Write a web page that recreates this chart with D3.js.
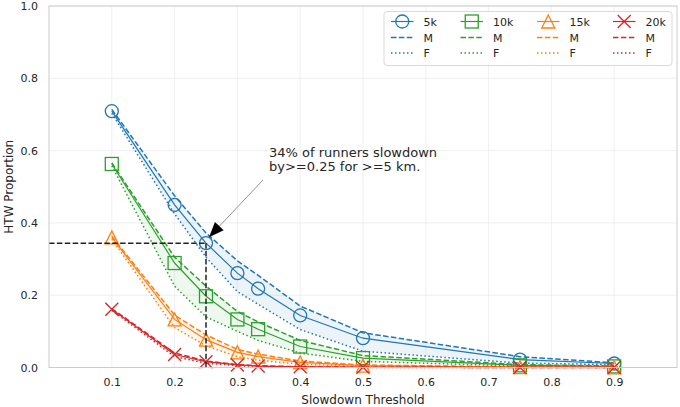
<!DOCTYPE html>
<html><head><meta charset="utf-8">
<script src="https://cdn.jsdelivr.net/npm/d3@7"></script>
<style>body{margin:0;background:#fff} svg{display:block} text{font-family:"DejaVu Sans",sans-serif;fill:#262626}</style>
</head><body>
<svg id="c" width="680" height="407"></svg>
<script>
const thresholds = [0.1, 0.2, 0.25, 0.3, 0.333, 0.4, 0.5, 0.75, 0.9];
const groups = ["5k", "10k", "15k", "20k"];
const colors = ["#1f77b4", "#2ca02c", "#ff7f0e", "#d62728"];
const markerTypes = ["circle", "square", "triangle", "x"];

const all5k  = [0.709, 0.450, 0.344, 0.261, 0.218, 0.144, 0.081, 0.022, 0.011];
const male5k = [0.714, 0.475, 0.372, 0.295, 0.255, 0.170, 0.096, 0.030, 0.013];
const fem5k  = [0.703, 0.425, 0.305, 0.210, 0.175, 0.105, 0.045, 0.012, 0.008];

const all10k  = [0.563, 0.289, 0.197, 0.133, 0.106, 0.058, 0.026, 0.006, 0.003];
const male10k = [0.566, 0.305, 0.225, 0.155, 0.126, 0.075, 0.033, 0.008, 0.004];
const fem10k  = [0.558, 0.225, 0.140, 0.100, 0.075, 0.040, 0.017, 0.004, 0.002];

const all15k  = [0.360, 0.133, 0.077, 0.042, 0.030, 0.014, 0.005, 0.001, 0.0005];
const male15k = [0.363, 0.145, 0.090, 0.050, 0.037, 0.018, 0.007, 0.0015, 0.001];
const fem15k  = [0.355, 0.110, 0.060, 0.030, 0.020, 0.009, 0.003, 0.0005, 0.0003];

const all20k  = [0.161, 0.036, 0.016, 0.007, 0.004, 0.002, 0.0005, 0.0002, 0.0001];
const male20k = [0.163, 0.040, 0.018, 0.008, 0.005, 0.002, 0.0006, 0.0002, 0.0001];
const fem20k  = [0.158, 0.030, 0.012, 0.005, 0.003, 0.001, 0.0003, 0.0001, 0.0001];

const allVals = [all5k, all10k, all15k, all20k];
const maleVals = [male5k, male10k, male15k, male20k];
const femVals = [fem5k, fem10k, fem15k, fem20k];

const xTicks = [0.1, 0.2, 0.3, 0.4, 0.5, 0.6, 0.7, 0.8, 0.9];
const yTicks = [0.0, 0.2, 0.4, 0.6, 0.8, 1.0];

const annotX = 0.25, annotY = 0.344;
const annotText = ["34% of runners slowdown", "by>=0.25 for >=5 km."];
const xLabel = "Slowdown Threshold", yLabel = "HTW Proportion";

const svg = d3.select("#c");
const L = 49, R = 677, T = 6, B = 367.5;
const x = d3.scaleLinear().domain([0, 1]).range([L, R]);
const y = d3.scaleLinear().domain([0, 1]).range([B, T]);

// grid
const grid = svg.append("g");
grid.selectAll("line.gx").data(xTicks).join("line")
  .attr("x1", d => x(d)).attr("x2", d => x(d)).attr("y1", T).attr("y2", B)
  .attr("stroke", "#ebebeb").attr("stroke-width", 0.8);
grid.selectAll("line.gy").data(yTicks).join("line")
  .attr("y1", d => y(d)).attr("y2", d => y(d)).attr("x1", L).attr("x2", R)
  .attr("stroke", "#ebebeb").attr("stroke-width", 0.8);

// axes
const xAxis = svg.append("g").attr("transform", `translate(0,${B})`)
  .call(d3.axisBottom(x).tickValues(xTicks).tickSize(0).tickPadding(11).tickFormat(d3.format(".1f")));
const yAxis = svg.append("g").attr("transform", `translate(${L},0)`)
  .call(d3.axisLeft(y).tickValues(yTicks).tickSize(0).tickPadding(11).tickFormat(d3.format(".1f")));
[xAxis, yAxis].forEach(a => {
  a.select(".domain").remove();
  a.selectAll("text").attr("font-size", 11).attr("fill", "#262626").style("font-family", "DejaVu Sans");
});

svg.append("text").attr("x", (L + R) / 2).attr("y", 404).attr("text-anchor", "middle")
  .attr("font-size", 12).text(xLabel);
svg.append("text").attr("transform", `translate(12.5,${(T + B) / 2}) rotate(-90)`)
  .attr("text-anchor", "middle").attr("font-size", 12).text(yLabel);

function drawMarker(g, type, cx, cy, color, r) {
  if (type === "circle") {
    g.append("circle").attr("cx", cx).attr("cy", cy).attr("r", r)
      .attr("fill", "none").attr("stroke", color).attr("stroke-width", 1.3);
  } else if (type === "square") {
    g.append("rect").attr("x", cx - r).attr("y", cy - r).attr("width", 2 * r).attr("height", 2 * r)
      .attr("fill", "none").attr("stroke", color).attr("stroke-width", 1.3);
  } else if (type === "triangle") {
    g.append("path").attr("d", `M${cx},${cy - r}L${cx + r},${cy + r}L${cx - r},${cy + r}Z`)
      .attr("fill", "none").attr("stroke", color).attr("stroke-width", 1.3);
  } else {
    g.append("path").attr("d", `M${cx - r},${cy - r}L${cx + r},${cy + r}M${cx - r},${cy + r}L${cx + r},${cy - r}`)
      .attr("fill", "none").attr("stroke", color).attr("stroke-width", 1.3);
  }
}

const line = d3.line().x(d => x(d[0])).y(d => y(d[1]));
const area = d3.area().x(d => x(d[0])).y0(d => y(d[1])).y1(d => y(d[2]));

groups.forEach((gname, i) => {
  const g = svg.append("g");
  const c = colors[i];
  const pts = thresholds.map((t, j) => [t, allVals[i][j]]);
  const mp = thresholds.map((t, j) => [t, maleVals[i][j]]);
  const fp = thresholds.map((t, j) => [t, femVals[i][j]]);
  const band = thresholds.map((t, j) => [t, maleVals[i][j], femVals[i][j]]);
  g.append("path").attr("d", area(band)).attr("fill", c).attr("fill-opacity", 0.08);
  g.append("path").attr("d", line(pts)).attr("fill", "none").attr("stroke", c).attr("stroke-width", 1.2);
  pts.forEach(p => drawMarker(g, markerTypes[i], x(p[0]), y(p[1]), c, 6.5));
  g.append("path").attr("d", line(mp)).attr("fill", "none").attr("stroke", c).attr("stroke-width", 1.5)
    .attr("stroke-dasharray", "5.5,2.4");
  g.append("path").attr("d", line(fp)).attr("fill", "none").attr("stroke", c).attr("stroke-width", 1.5)
    .attr("stroke-dasharray", "1.5,2.5");
});

// reference dashed lines
svg.append("line").attr("x1", L).attr("x2", x(annotX)).attr("y1", y(annotY)).attr("y2", y(annotY))
  .attr("stroke", "#222").attr("stroke-width", 1.5).attr("stroke-dasharray", "5.5,2.4");
svg.append("line").attr("x1", x(annotX)).attr("x2", x(annotX)).attr("y1", y(annotY)).attr("y2", B)
  .attr("stroke", "#222").attr("stroke-width", 1.5).attr("stroke-dasharray", "5.5,2.4");

// annotation
const ax0 = 263, ay0 = 180;
const tx = x(annotX) + 3, ty = y(annotY) - 6;
const ang = Math.atan2(ty - ay0, tx - ax0);
const hl = 15, hw = 6;
const bx = tx - hl * Math.cos(ang), by = ty - hl * Math.sin(ang);
svg.append("line").attr("x1", ax0).attr("y1", ay0).attr("x2", bx).attr("y2", by)
  .attr("stroke", "#888").attr("stroke-width", 0.9);
svg.append("path").attr("d",
  `M${tx},${ty}L${bx + hw * Math.sin(ang)},${by - hw * Math.cos(ang)}L${bx - hw * Math.sin(ang)},${by + hw * Math.cos(ang)}Z`)
  .attr("fill", "#000");
annotText.forEach((t, k) => {
  svg.append("text").attr("x", 269).attr("y", 156.7 + k * 14.2).attr("font-size", 13).text(t);
});

// spines
svg.append("rect").attr("x", L).attr("y", T).attr("width", R - L).attr("height", B - T)
  .attr("fill", "none").attr("stroke", "#cccccc").attr("stroke-width", 1);

// legend
const lg = svg.append("g");
lg.append("rect").attr("x", 384).attr("y", 11.5).attr("width", 288).attr("height", 54).attr("rx", 3)
  .attr("fill", "#fff").attr("fill-opacity", 0.8).attr("stroke", "#d5d5d5").attr("stroke-width", 0.9);
const colX = [391, 460.5, 537, 613];
const rowY = [21.5, 37.5, 53];
const subLabels = ["M", "F"];
groups.forEach((gname, i) => {
  const c = colors[i], x0 = colX[i];
  lg.append("line").attr("x1", x0).attr("x2", x0 + 22.5).attr("y1", rowY[0]).attr("y2", rowY[0])
    .attr("stroke", c).attr("stroke-width", 1.2);
  drawMarker(lg, markerTypes[i], x0 + 11.25, rowY[0], c, 6.5);
  lg.append("text").attr("x", x0 + 32.5).attr("y", rowY[0] + 4).attr("font-size", 11).text(gname);
  lg.append("line").attr("x1", x0).attr("x2", x0 + 22.5).attr("y1", rowY[1]).attr("y2", rowY[1])
    .attr("stroke", c).attr("stroke-width", 1.5).attr("stroke-dasharray", "5.5,2.4");
  lg.append("text").attr("x", x0 + 32.5).attr("y", rowY[1] + 4).attr("font-size", 11).text(subLabels[0]);
  lg.append("line").attr("x1", x0).attr("x2", x0 + 22.5).attr("y1", rowY[2]).attr("y2", rowY[2])
    .attr("stroke", c).attr("stroke-width", 1.5).attr("stroke-dasharray", "1.5,2.5");
  lg.append("text").attr("x", x0 + 32.5).attr("y", rowY[2] + 4).attr("font-size", 11).text(subLabels[1]);
});
</script>
</body></html>
